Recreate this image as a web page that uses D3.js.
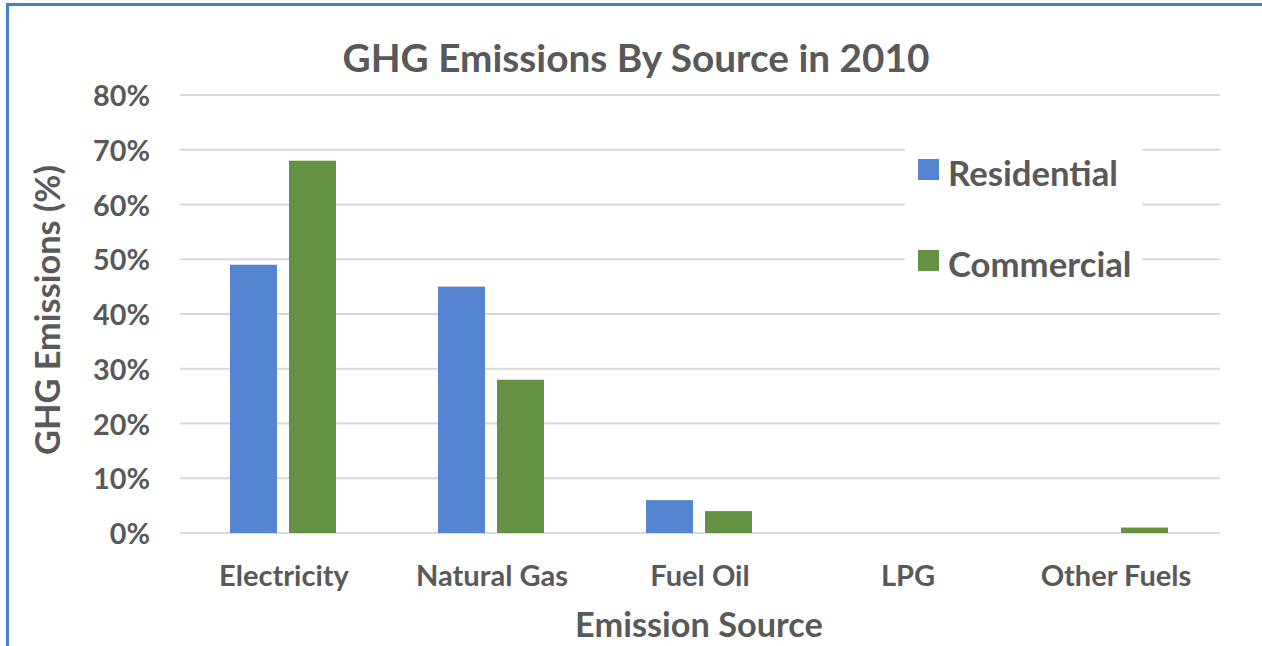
<!DOCTYPE html>
<html><head><meta charset="utf-8">
<script src="https://cdn.jsdelivr.net/npm/d3@7"></script>
<style>body{margin:0;background:#fff;} text{font-family:Lato,"Open Sans",sans-serif;font-weight:700;fill:#595959;}</style>
</head><body>
<svg id="c" width="1262" height="646"></svg>
<script>
const categories = ["Electricity","Natural Gas","Fuel Oil","LPG","Other Fuels"];
const seriesNames = ["Residential","Commercial"];
const residential = [49,45,6,0,0];
const commercial = [68,28,4,0,1];
const yTicks = [0,10,20,30,40,50,60,70,80];
const colors = ["#5585d0","#659142"];

const svg = d3.select("#c");
function fit(sel, w){ const n=sel.node(); const fs=parseFloat(sel.attr("font-size")); const l=n.getComputedTextLength(); sel.attr("font-size", fs*w/l); return fs*w/l; }

// border
svg.append("line").attr("x1",7.5).attr("y1",4).attr("x2",7.5).attr("y2",646).attr("stroke","#3f84c8").attr("stroke-width",3);
svg.append("line").attr("x1",6).attr("y1",4.5).attr("x2",1262).attr("y2",4.5).attr("stroke","#3f84c8").attr("stroke-width",3);

const x = d3.scaleBand().domain(categories).range([180,1220]);
const y = d3.scaleLinear().domain([0,80]).range([533,95]);

// gridlines
svg.append("g").selectAll("line").data(yTicks).join("line")
  .attr("x1",180).attr("x2",1220).attr("y1",d=>y(d)).attr("y2",d=>y(d))
  .attr("stroke","#d9d9d9").attr("stroke-width",2);

// y tick labels
const tl = svg.append("g").selectAll("text").data(yTicks).join("text")
  .attr("x",150).attr("y",d=>y(d)+11).attr("text-anchor","end").attr("font-size",26).text(d=>d+"%");
const s0 = tl.filter(d=>d===80); const fsT = fit(s0,57); tl.attr("font-size",fsT);

// bars
const bw = 47;
const offs = [50,109];
const data = [residential, commercial];
data.forEach((vals,si)=>{
  svg.append("g").selectAll("rect").data(vals.map((v,i)=>({c:categories[i],v}))).join("rect")
    .attr("x",d=>x(d.c)+offs[si]).attr("width",bw)
    .attr("y",d=>y(d.v)).attr("height",d=>y(0)-y(d.v))
    .attr("fill",colors[si]);
});

// category labels
const cl = svg.append("g").selectAll("text").data(categories).join("text")
  .attr("x",d=>x(d)+x.bandwidth()/2).attr("y",586).attr("text-anchor","middle").attr("font-size",26).text(d=>d);
const fsC = fit(cl.filter(d=>d==="Electricity"),130); cl.attr("font-size",fsC);

// title
const t = svg.append("text").attr("x",636).attr("y",72).attr("text-anchor","middle").attr("font-size",34).text("GHG Emissions By Source in 2010");
fit(t,587);

// x axis title
const xt = svg.append("text").attr("x",699).attr("y",637).attr("text-anchor","middle").attr("font-size",30).text("Emission Source");
fit(xt,248);

// y axis title
const yt = svg.append("text").attr("transform","translate(60,310) rotate(-90)").attr("text-anchor","middle").attr("font-size",30).text("GHG Emissions (%)");
fit(yt,290);

// legend
svg.append("rect").attr("x",905).attr("y",135).attr("width",237).attr("height",160).attr("fill","#fff");
const lg = svg.append("g").selectAll("g").data(seriesNames).join("g")
  .attr("transform",(d,i)=>`translate(918,${159+i*91})`);
lg.append("rect").attr("width",21).attr("height",21).attr("fill",(d,i)=>colors[i]);
const lt = lg.append("text").attr("x",30).attr("y",27).attr("font-size",30).text(d=>d);
const fsL = fit(lt.filter(d=>d==="Residential"),170); lt.attr("font-size",fsL);
</script>
</body></html>
